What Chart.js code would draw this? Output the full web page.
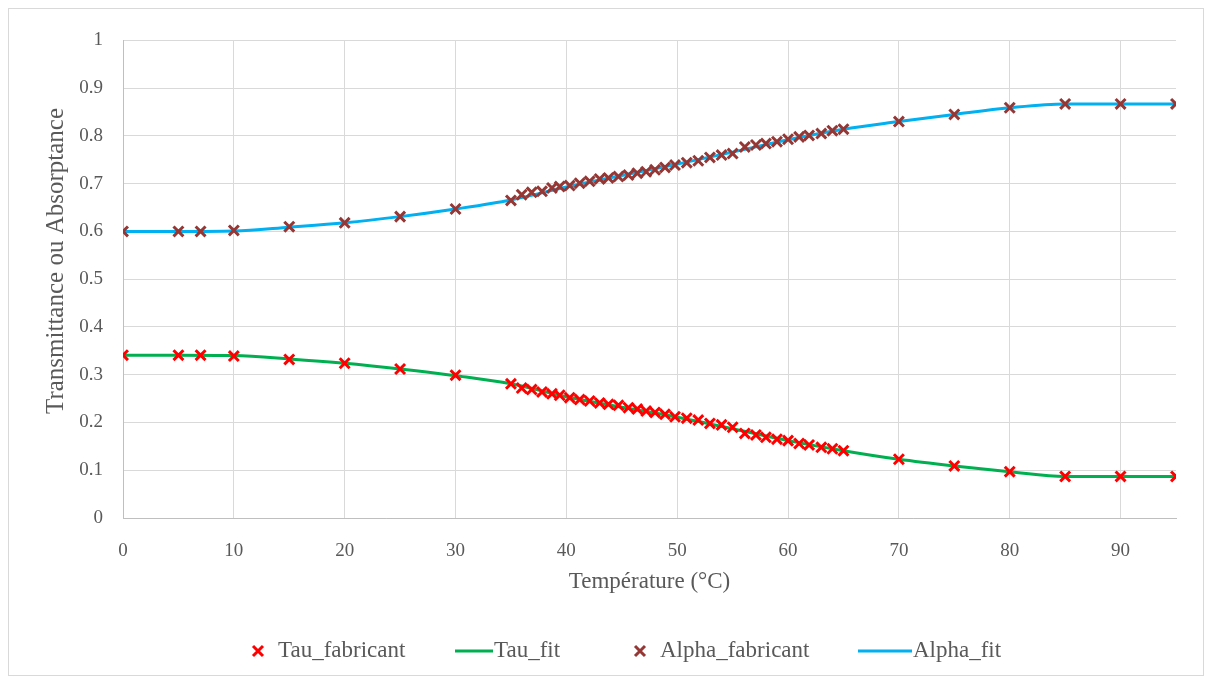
<!DOCTYPE html>
<html><head><meta charset="utf-8">
<script src="https://cdn.jsdelivr.net/npm/chart.js@4"></script>
<style>
html,body{margin:0;padding:0;background:#fff;}
#frame{position:absolute;left:8px;top:8px;width:1196px;height:668px;border:1px solid #d9d9d9;box-sizing:border-box;}
canvas{display:block;}
</style></head><body>
<div id="frame"><canvas id="c" width="1194" height="666"></canvas></div>
<script>
// ---- data ----
const measX = [0,5,7,10,15,20,25,30,35,35.97,36.87,37.8,38.7,39.4,40.3,41.2,42.1,43.0,43.8,44.7,45.6,46.4,47.2,48.0,48.9,49.8,50.86,51.9,52.95,54.0,55.0,56.1,57.1,58.0,59.0,60.0,61.0,61.9,63.0,64.0,65.0,70,75,80,85,90,95];
const tauMeas = [0.341,0.341,0.341,0.339,0.332,0.324,0.312,0.299,0.281,0.272,0.269,0.264,0.260,0.257,0.252,0.248,0.245,0.241,0.238,0.236,0.231,0.228,0.224,0.221,0.217,0.212,0.209,0.205,0.198,0.195,0.190,0.177,0.174,0.169,0.165,0.162,0.156,0.153,0.148,0.145,0.141,0.123,0.109,0.097,0.087,0.087,0.087];
const alphaMeas = [0.600,0.600,0.600,0.602,0.610,0.618,0.631,0.647,0.665,0.677,0.682,0.684,0.691,0.694,0.696,0.701,0.705,0.710,0.712,0.715,0.718,0.722,0.725,0.729,0.734,0.739,0.744,0.748,0.755,0.760,0.763,0.777,0.781,0.784,0.788,0.793,0.798,0.801,0.805,0.811,0.814,0.830,0.845,0.859,0.867,0.867,0.867];
const fitX = [0,5,10,15,20,25,30,35,40,45,50,55,60,65,70,75,80,85,90,95];
const tauFit = [0.341,0.341,0.340,0.333,0.324,0.312,0.298,0.281,0.254,0.232,0.211,0.187,0.162,0.141,0.123,0.109,0.097,0.087,0.087,0.087];
const alphaFit = [0.600,0.600,0.601,0.609,0.618,0.631,0.647,0.666,0.693,0.717,0.741,0.766,0.792,0.814,0.830,0.845,0.859,0.867,0.867,0.867];
const seriesNames = ['Tau_fabricant','Tau_fit','Alpha_fabricant','Alpha_fit'];
const xTitle = 'Température (°C)';
const yTitle = 'Transmittance ou Absorptance';

const pts = (xs, ys) => xs.map((x, i) => ({x: x, y: ys[i]}));
const FONT = "'Liberation Serif', 'DejaVu Serif', serif";
const TXT = '#595959';
const colors = {tauM:'#FF0000', tauF:'#00B050', alphaM:'#953735', alphaF:'#00B0F0'};

const legendPlugin = {
  id: 'customLegend',
  afterDraw(chart) {
    const ctx = chart.ctx;
    const y = 642;
    ctx.save();
    ctx.font = "23px " + FONT;
    ctx.fillStyle = TXT;
    ctx.textBaseline = 'middle';
    const items = [
      {type:'cross', color:colors.tauM, sx:249, tx:269, label:seriesNames[0]},
      {type:'line', color:colors.tauF, sx:446, ex:484, tx:485, label:seriesNames[1]},
      {type:'cross', color:colors.alphaM, sx:631, tx:651, label:seriesNames[2]},
      {type:'line', color:colors.alphaF, sx:849, ex:903, tx:904, label:seriesNames[3]}
    ];
    items.forEach(it => {
      ctx.strokeStyle = it.color;
      ctx.lineWidth = 3;
      ctx.beginPath();
      if (it.type === 'cross') {
        const r = 5;
        ctx.moveTo(it.sx - r, y - r); ctx.lineTo(it.sx + r, y + r);
        ctx.moveTo(it.sx - r, y + r); ctx.lineTo(it.sx + r, y - r);
      } else {
        ctx.moveTo(it.sx, y); ctx.lineTo(it.ex, y);
      }
      ctx.stroke();
      ctx.fillText(it.label, it.tx, y);
    });
    // y-axis title (slightly above the axis centre, as in the original)
    ctx.save();
    ctx.translate(47, 252);
    ctx.rotate(-Math.PI / 2);
    ctx.font = "25px " + FONT;
    ctx.textAlign = 'center';
    ctx.textBaseline = 'middle';
    ctx.fillText(yTitle, 0, 0);
    ctx.restore();
    ctx.restore();
  }
};

new Chart(document.getElementById('c'), {
  type: 'scatter',
  data: {
    datasets: [
      {label: seriesNames[0], data: pts(measX, tauMeas), showLine:false, pointStyle:'crossRot', pointRadius:7, pointHoverRadius:7, borderColor:colors.tauM, backgroundColor:colors.tauM, pointBorderWidth:3, order:0},
      {label: seriesNames[1], data: pts(fitX, tauFit), showLine:true, pointRadius:0, borderColor:colors.tauF, borderWidth:3, cubicInterpolationMode:'monotone', order:1},
      {label: seriesNames[2], data: pts(measX, alphaMeas), showLine:false, pointStyle:'crossRot', pointRadius:7, pointHoverRadius:7, borderColor:colors.alphaM, backgroundColor:colors.alphaM, pointBorderWidth:3, order:0},
      {label: seriesNames[3], data: pts(fitX, alphaFit), showLine:true, pointRadius:0, borderColor:colors.alphaF, borderWidth:3, cubicInterpolationMode:'monotone', order:1}
    ]
  },
  options: {
    responsive: false,
    animation: false,
    devicePixelRatio: 1,
    layout: {padding: {left:0, right:27, top:27, bottom:77}},
    plugins: {legend:{display:false}, tooltip:{enabled:false}},
    scales: {
      x: {
        type:'linear', min:0, max:95,
        ticks:{stepSize:10, includeBounds:false, color:TXT, font:{family:FONT, size:19}, padding:22},
        grid:{color:'#d9d9d9', drawTicks:false, lineWidth:1},
        border:{color:'#bfbfbf', width:1},
        title:{display:true, text:xTitle, color:TXT, font:{family:FONT, size:23}, padding:{top:0,bottom:2}},
        afterFit(s){ s.height = 80; }
      },
      y: {
        min:0, max:1,
        ticks:{stepSize:0.1, color:TXT, font:{family:FONT, size:19}, padding:20,
          callback:(v) => String(Math.round(v * 10) / 10)},
        grid:{color:'#d9d9d9', drawTicks:false, lineWidth:1},
        border:{color:'#bfbfbf', width:1},
        title:{display:false, text:yTitle},
        afterFit(s){ s.width = 114; }
      }
    }
  },
  plugins:[legendPlugin]
});
</script>
</body></html>
